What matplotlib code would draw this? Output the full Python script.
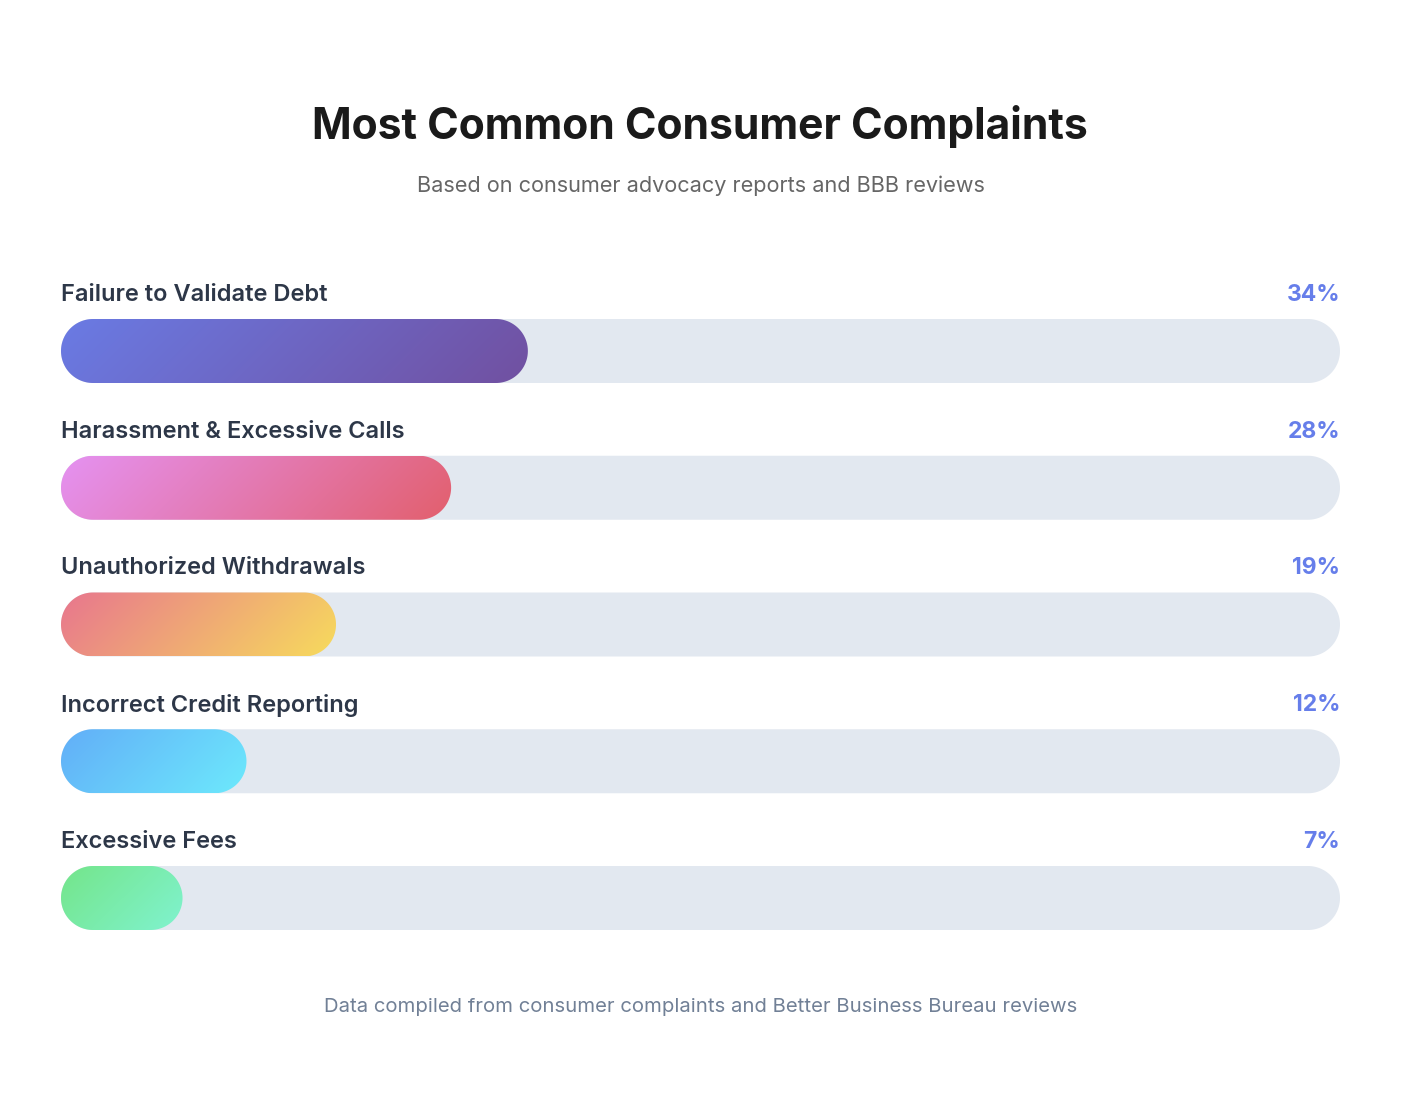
import numpy as np
import matplotlib
matplotlib.use('Agg')
import matplotlib.pyplot as plt
from matplotlib.patches import Polygon
from matplotlib.colors import to_rgb

plt.rcParams['font.family'] = ['Inter', 'DejaVu Sans']

# data
categories = ['Failure to Validate Debt', 'Harassment & Excessive Calls',
              'Unauthorized Withdrawals', 'Incorrect Credit Reporting', 'Excessive Fees']
values = [34, 28, 19, 12, 7]
grad_start = ['#6a7be4', '#e592f2', '#e8768e', '#62aef8', '#74e58a']
grad_end = ['#7150a0', '#e25f6c', '#f7dc5c', '#6deafc', '#80f3d0']

W, H = 1418, 1098
fig = plt.figure(figsize=(W / 100, H / 100), dpi=100)
fig.patch.set_facecolor('white')

# bar area: x in percent, y in pixels from top
left_px, track_px = 61, 1279
ax = fig.add_axes([left_px / W, 0, track_px / W, 1])
ax.set_xlim(0, 100)
ax.set_ylim(H, 0)
ax.axis('off')

unit = track_px / 100.0          # pixels per percent
bar_h = 64
r = bar_h / 2 / unit            # cap radius in percent units
row0, pitch = 319, 136.75


def stadium(x0, x1, top, h, **kw):
    # pill shape with true half-circle ends (circle in pixels)
    cy = top + h / 2
    a = np.linspace(-np.pi / 2, np.pi / 2, 60)
    right = np.column_stack([x1 - r + r * np.cos(a), cy + h / 2 * np.sin(a)])
    b = np.linspace(np.pi / 2, 3 * np.pi / 2, 60)
    left = np.column_stack([x0 + r + r * np.cos(b), cy + h / 2 * np.sin(b)])
    return Polygon(np.vstack([right, left]), closed=True, **kw)


for i, (cat, v) in enumerate(zip(categories, values)):
    top = row0 + i * pitch
    ax.add_patch(stadium(0, 100, top, bar_h, fc='#e2e8f0', ec='none'))

    w = v + r
    clip = stadium(0, w, top, bar_h, fc='none', ec='none')
    ax.add_patch(clip)
    nx, ny = max(int(w * unit), 2), bar_h
    xx, yy = np.meshgrid(np.arange(nx), np.arange(ny))
    t = (xx + yy) / float(nx + ny)
    c0, c1 = np.array(to_rgb(grad_start[i])), np.array(to_rgb(grad_end[i]))
    img = c0[None, None, :] * (1 - t[..., None]) + c1[None, None, :] * t[..., None]
    im = ax.imshow(img, extent=[0, w, top + bar_h, top], aspect='auto',
                   interpolation='bilinear', zorder=2)
    im.set_clip_path(clip)

    ax.text(0, top - 24, cat, fontsize=17, fontweight='semibold',
            color='#2d3748', ha='left', va='center', clip_on=False)
    ax.text(100, top - 24, f'{v}%', fontsize=16.5, fontweight='bold',
            color='#667eea', ha='right', va='center', clip_on=False)

fig.text(700 / W, 1 - 127 / H, 'Most Common Consumer Complaints',
         fontsize=30.7, fontweight='bold', color='#1a1a1a', ha='center', va='center')
fig.text(701 / W, 1 - 186 / H, 'Based on consumer advocacy reports and BBB reviews',
         fontsize=15.6, color='#666666', ha='center', va='center')
fig.text(701 / W, 1 - 1007 / H,
         'Data compiled from consumer complaints and Better Business Bureau reviews',
         fontsize=14.6, color='#718096', ha='center', va='center')

fig.savefig('out.png', dpi=100, facecolor='white')
